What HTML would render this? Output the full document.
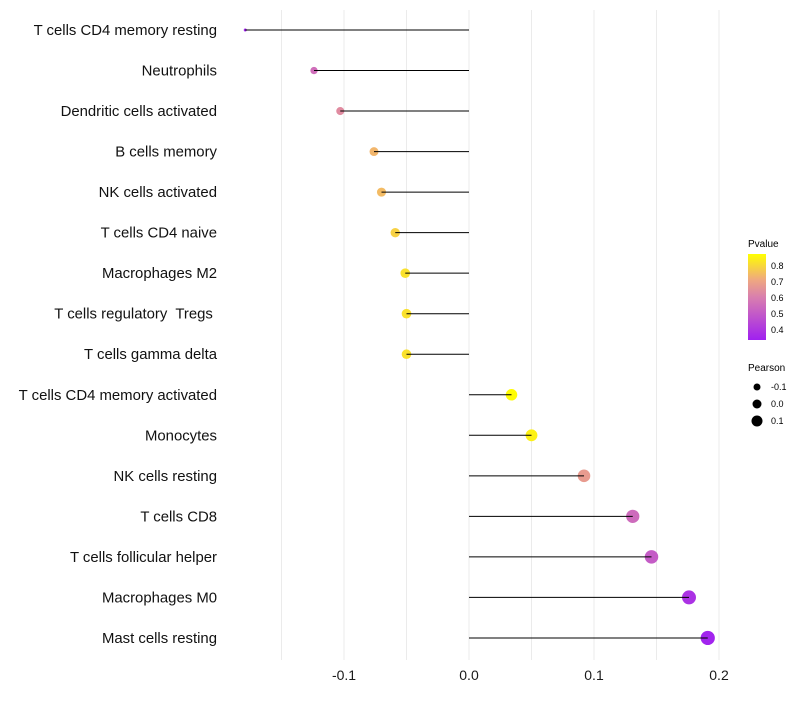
<!DOCTYPE html>
<html><head><meta charset="utf-8"><style>
body{margin:0;background:#fff;font-family:"Liberation Sans",sans-serif;}
text{white-space:pre;}
</style></head><body>
<svg id="chart" width="800" height="700">
<defs><linearGradient id="pg" x1="0" y1="1" x2="0" y2="0">
<stop offset="0" stop-color="#A020F0"/><stop offset="0.5" stop-color="#D97FAE"/><stop offset="0.7" stop-color="#EFA880"/><stop offset="1" stop-color="#FFFF00"/>
</linearGradient></defs>
<g id="grid"></g><g id="points"></g><g id="marks"></g><g id="labels"></g>
<g font-size="9">
<text x="748" y="247" font-size="10">Pvalue</text>
<rect x="748" y="254" width="18" height="86" fill="url(#pg)"/>
<text x="771" y="269">0.8</text><text x="771" y="285">0.7</text><text x="771" y="301">0.6</text><text x="771" y="317">0.5</text><text x="771" y="333">0.4</text>
</g>
<g font-size="9">
<text x="748" y="371" font-size="10">Pearson</text>
<circle cx="757" cy="387" r="3.5"/><text x="771" y="390">-0.1</text>
<circle cx="757" cy="404" r="4.5"/><text x="771" y="407">0.0</text>
<circle cx="757" cy="421" r="5.5"/><text x="771" y="424">0.1</text>
</g>
</svg>
<script>
const cells=["T cells CD4 memory resting","Neutrophils","Dendritic cells activated","B cells memory","NK cells activated","T cells CD4 naive","Macrophages M2","T cells regulatory  Tregs ","T cells gamma delta","T cells CD4 memory activated","Monocytes","NK cells resting","T cells CD8","T cells follicular helper","Macrophages M0","Mast cells resting"];
const pearson=[-0.179,-0.124,-0.103,-0.076,-0.070,-0.059,-0.051,-0.050,-0.050,0.034,0.050,0.092,0.131,0.146,0.176,0.191];
const pvalue=[0.35,0.56,0.64,0.74,0.75,0.79,0.82,0.82,0.82,0.87,0.85,0.68,0.55,0.51,0.39,0.35];
const ticks=[-0.1,0.0,0.1,0.2];
const NS="http://www.w3.org/2000/svg";
const x=v=>469+v*1250, y=i=>30+i*40.53;
const pmin=Math.min(...pearson), pmax=Math.max(...pearson);
const rad=v=>1.5+5.6*Math.sqrt((v-pmin)/(pmax-pmin));
function col(p){const t=Math.max(0,Math.min(1,(p-0.34)/0.535));
const st=[[0,[160,32,240]],[0.5,[217,127,174]],[0.7,[239,168,128]],[1,[255,255,0]]];
for(let k=1;k<st.length;k++){if(t<=st[k][0]){const a=st[k-1],b=st[k],f=(t-a[0])/(b[0]-a[0]);
return `rgb(${a[1].map((c,j)=>Math.round(c+(b[1][j]-c)*f)).join(',')})`;}}return "rgb(255,255,0)";}
function mk(tag,at,par){const e=document.createElementNS(NS,tag);for(const k in at)e.setAttribute(k,at[k]);document.getElementById(par).appendChild(e);return e;}
for(let g=-0.15;g<=0.201;g+=0.05){const l=mk("line",{x1:x(g),x2:x(g),y1:10,y2:660,stroke:"#ebebeb","stroke-width":1},"grid");

}
ticks.forEach(t=>{const e=mk("text",{x:x(t),y:680,"text-anchor":"middle","font-size":14,fill:"#1a1a1a"},"labels");e.textContent=t.toFixed(1);

});
cells.forEach((c,i)=>{
const t=mk("text",{x:217,y:y(i)+5,"text-anchor":"end","font-size":14.9,fill:"#111"},"labels");t.textContent=c;


const p=mk("circle",{cx:x(pearson[i]),cy:y(i),r:rad(pearson[i]),fill:col(pvalue[i])},"points");


const l=mk("line",{x1:x(0),x2:x(pearson[i]),y1:y(i),y2:y(i),stroke:"#000","stroke-width":1},"marks");


});
</script>
</body></html>
